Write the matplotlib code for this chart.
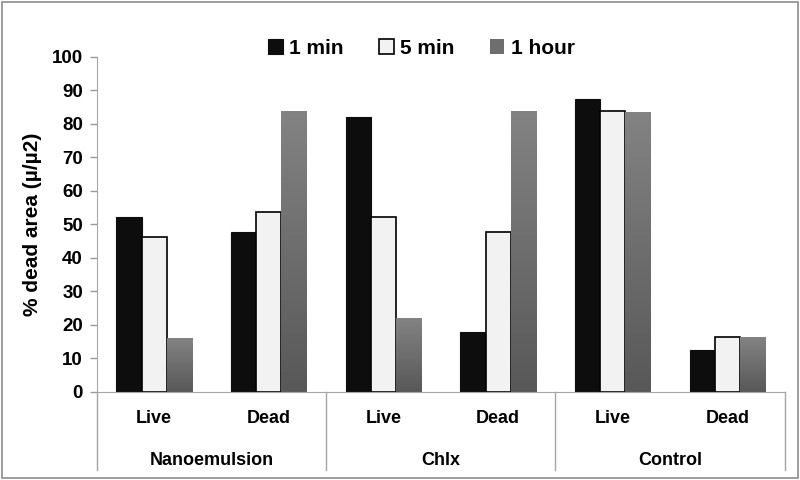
import numpy as np
import matplotlib.pyplot as plt
from matplotlib.patches import Rectangle
from matplotlib.colors import LinearSegmentedColormap

# data
groups = ['Nanoemulsion', 'Chlx', 'Control']
states = ['Live', 'Dead']
series = ['1 min', '5 min', '1 hour']
one_min = [52.1, 47.6, 81.9, 17.9, 87.4, 12.4]
five_min = [46.3, 53.6, 52.2, 47.8, 83.7, 16.4]
one_hour = [15.9, 83.9, 21.9, 83.9, 83.6, 16.3]

plt.rcParams['font.family'] = ['Liberation Sans', 'DejaVu Sans']

fig = plt.figure(figsize=(8, 4.8), dpi=100)
ax = fig.add_axes([0.121, 0.184, 0.86, 0.698])

x = np.arange(len(one_min))
w = 0.22
b1 = ax.bar(x - w, one_min, w, color='#0d0d0d', edgecolor='#0d0d0d', linewidth=0.8, label=series[0])
b2 = ax.bar(x, five_min, w, color='#f2f2f2', edgecolor='#000000', linewidth=1.2, label=series[1])
b3 = ax.bar(x + w, one_hour, w, color='none', edgecolor='none', label=series[2])

# gradient fill for the 1 hour bars (lighter at top, darker at bottom)
grad = np.linspace(0, 1, 256).reshape(-1, 1)
gcmap = LinearSegmentedColormap.from_list('g', ['#585858', '#838383'])
for bar in b3:
    bx, by = bar.get_x(), bar.get_y()
    bw, bh = bar.get_width(), bar.get_height()
    im = ax.imshow(grad, cmap=gcmap, extent=[bx, bx + bw, by, by + bh],
                   origin='lower', aspect='auto', zorder=2)
    im.set_clip_path(bar)

ax.set_xlim(-0.5, len(x) - 0.5)
ax.set_ylim(0, 100)
ax.set_yticks(np.arange(0, 101, 10))
ax.tick_params(axis='y', labelsize=13.5, length=5, color='#999999', width=1, pad=5)
for t in ax.get_yticklabels():
    t.set_fontweight('bold')
ax.set_xticks([])
for s in ['top', 'right']:
    ax.spines[s].set_visible(False)
for s in ['left', 'bottom']:
    ax.spines[s].set_color('#a6a6a6')
ax.set_ylabel('% dead area (µ/µ2)', fontsize=15, fontweight='bold', labelpad=7)

# two-level category axis
trans = ax.get_xaxis_transform()
for i in range(len(groups) + 1):
    xp = -0.5 + 2 * i
    ax.plot([xp, xp], [0, -0.234], transform=trans, color='#a6a6a6', lw=1, clip_on=False)
for i, st in enumerate(states * len(groups)):
    ax.text(x[i], -0.079, st, transform=trans, ha='center', va='center',
            fontsize=13, fontweight='bold')
for i, g in enumerate(groups):
    ax.text(2 * i + 0.5, -0.204, g, transform=trans, ha='center', va='center',
            fontsize=13, fontweight='bold')

# legend
h3 = Rectangle((0, 0), 1, 1, facecolor='#6e6e6e', edgecolor='none')
fig.legend([b1, b2, h3], series, loc='center', bbox_to_anchor=(0.527, 0.9), ncol=3,
           frameon=False, handlelength=0.7, handleheight=0.7, handletextpad=0.3,
           columnspacing=1.7, prop={'size': 15, 'weight': 'bold'})

# outer frame
fig.patches.append(Rectangle((0.003, 0.005), 0.994, 0.99, transform=fig.transFigure,
                             fill=False, edgecolor='#8c8c8c', lw=1.2))

fig.savefig('out.png', dpi=100)
